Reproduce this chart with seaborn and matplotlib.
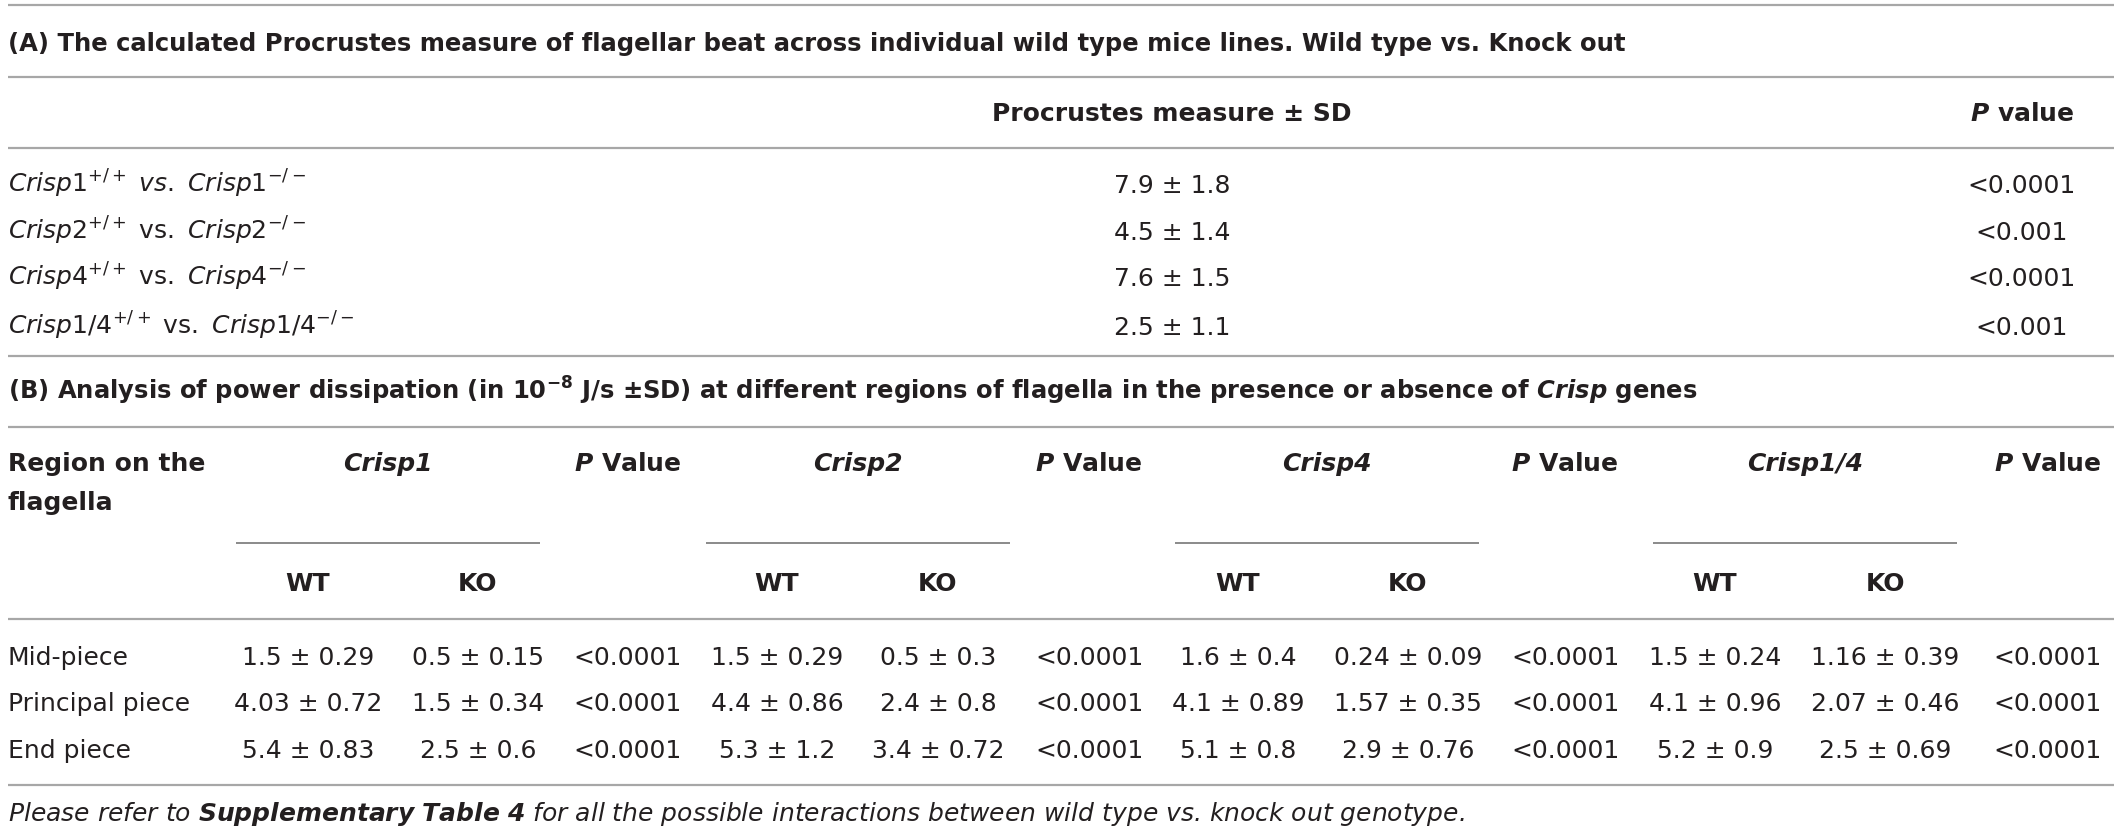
import matplotlib.pyplot as plt
import pandas as pd
import seaborn as sns

# ---- data (A) Procrustes measure, wild type vs knock out
pair_genes = ["Crisp1", "Crisp2", "Crisp4", "Crisp1/4"]
proc_mean = [7.9, 4.5, 7.6, 2.5]
proc_sd = [1.8, 1.4, 1.5, 1.1]
proc_p = ["<0.0001", "<0.001", "<0.0001", "<0.001"]

# ---- data (B) power dissipation, 10^-8 J/s
regions = ["Mid-piece", "Principal piece", "End piece"]
genes = ["Crisp1", "Crisp2", "Crisp4", "Crisp1/4"]
wt_mean = [[1.5, 4.03, 5.4], [1.5, 4.4, 5.3], [1.6, 4.1, 5.1], [1.5, 4.1, 5.2]]
wt_sd = [[0.29, 0.72, 0.83], [0.29, 0.86, 1.2], [0.4, 0.89, 0.8], [0.24, 0.96, 0.9]]
ko_mean = [[0.5, 1.5, 2.5], [0.5, 2.4, 3.4], [0.24, 1.57, 2.9], [1.16, 2.07, 2.5]]
ko_sd = [[0.15, 0.34, 0.6], [0.3, 0.8, 0.72], [0.09, 0.35, 0.76], [0.39, 0.46, 0.69]]
p_vals = [["<0.0001"] * 3, ["<0.0001"] * 3, ["<0.0001"] * 3, ["<0.0001"] * 3]

sns.set_theme(style="white")
plt.rcParams['font.family'] = ['DejaVu Sans']
plt.rcParams['mathtext.fontset'] = 'custom'
plt.rcParams['mathtext.rm'] = 'DejaVu Sans'
plt.rcParams['mathtext.it'] = 'DejaVu Sans:italic'
plt.rcParams['mathtext.bf'] = 'DejaVu Sans:bold'
plt.rcParams['mathtext.sf'] = 'DejaVu Sans:bold:italic'

TXT = "#231f20"
RULE = "#a7a7a7"
FS = 18

rows_b = []
for g, gene in enumerate(genes):
    for r, reg in enumerate(regions):
        rows_b.append({"gene": gene, "region": reg,
                       "wt": f"{wt_mean[g][r]:g} \u00b1 {wt_sd[g][r]:g}",
                       "ko": f"{ko_mean[g][r]:g} \u00b1 {ko_sd[g][r]:g}",
                       "p": p_vals[g][r]})
df_b = pd.DataFrame(rows_b)

fig = plt.figure(figsize=(21.2, 8.34), dpi=100)
ax = fig.add_axes([0, 0, 1, 1])
ax.set_xlim(0, 2120)
ax.set_ylim(834, 0)
ax.axis("off")

def rule(y, x0=8, x1=2114, color=RULE, lw=1.6):
    ax.plot([x0, x1], [y, y], color=color, lw=lw, solid_capstyle="butt")

def txt(x, y, s, ha="center", fs=FS, **kw):
    ax.text(x, y, s, ha=ha, va="baseline", fontsize=fs, color=TXT, **kw)

# ---- section A
for y in [5, 77, 148, 356]:
    rule(y)
txt(8, 51, "(A) The calculated Procrustes measure of flagellar beat across individual "
    "wild type mice lines. Wild type vs. Knock out", ha="left", fontweight="bold", fs=17.5)
txt(1172, 121, "Procrustes measure \u00b1 SD", fontweight="bold")
txt(2022, 121, r"$\mathsf{P}$ value", fontweight="bold")

row_y_a = [193, 240, 286, 335]
for i, gene in enumerate(pair_genes):
    vs = r"\mathit{vs.}" if i == 0 else r"\mathrm{vs.}"
    label = ("$\\mathit{" + gene + "}^{\\mathrm{+/+}}\\ " + vs +
             "\\ \\mathit{" + gene + "}^{\\mathrm{-/-}}$")
    txt(8, row_y_a[i], label, ha="left")
    txt(1172, row_y_a[i], f"{proc_mean[i]:g} \u00b1 {proc_sd[i]:g}")
    txt(2022, row_y_a[i], proc_p[i])

# ---- section B
for y in [427, 619, 785]:
    rule(y)
txt(8, 400, "(B) Analysis of power dissipation (in 10$^{\\mathbf{-8}}$ J/s \u00b1SD) at "
    "different regions of flagella in the presence or absence of $\\mathsf{Crisp}$ genes",
    ha="left", fontweight="bold", fs=17.5)
txt(8, 471, "Region on the", ha="left", fontweight="bold")
txt(8, 510, "flagella", ha="left", fontweight="bold")

gene_x = [388, 858, 1327, 1805]
wt_x = [308, 777, 1238, 1715]
ko_x = [478, 938, 1408, 1885]
p_x = [628, 1089, 1565, 2048]
row_y_b = [665, 711, 758]

for g, gene in enumerate(genes):
    txt(gene_x[g], 471, gene, fontweight="bold", fontstyle="italic")
    txt(p_x[g], 471, r"$\mathsf{P}$ Value", fontweight="bold")
    rule(543, gene_x[g] - 152, gene_x[g] + 152, color="#6b6b6b", lw=1.1)
    txt(wt_x[g], 591, "WT", fontweight="bold")
    txt(ko_x[g], 591, "KO", fontweight="bold")
    sub = df_b[df_b["gene"] == gene].reset_index(drop=True)
    for r in range(len(sub)):
        txt(wt_x[g], row_y_b[r], sub.loc[r, "wt"])
        txt(ko_x[g], row_y_b[r], sub.loc[r, "ko"])
        txt(p_x[g], row_y_b[r], sub.loc[r, "p"])

for r, reg in enumerate(regions):
    txt(8, row_y_b[r], reg, ha="left")

txt(8, 821, r"Please refer to $\mathsf{Supplementary\ Table\ 4}$ for all the possible "
    "interactions between wild type vs. knock out genotype.", ha="left", fontstyle="italic")

fig.savefig("out.png", dpi=100, facecolor="white")
